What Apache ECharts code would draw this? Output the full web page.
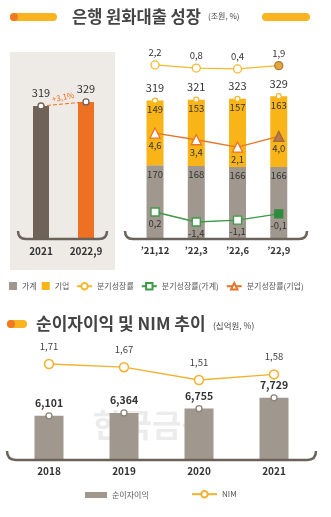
<!DOCTYPE html>
<html><head><meta charset="utf-8">
<script src="https://cdn.jsdelivr.net/npm/echarts@6/dist/echarts.min.js"></script>
<style>html,body{margin:0;padding:0;background:#fff}#c{width:331px;height:517px}</style>
</head><body><div id="c"></div>
<script>
const leftCats = ['2021', '2022,9'];
const leftTotals = [319, 329];
const quarterCats = ['’21,12', '’22,3', '’22,6', '’22,9'];
const household = [170, 168, 166, 166];
const corporate = [149, 153, 157, 163];
const totals = [319, 321, 323, 329];
const rateTotal = [2.2, 0.8, 0.4, 1.9];
const rateHousehold = [0.2, -1.4, -1.1, -0.1];
const rateCorporate = [4.6, 3.4, 2.1, 4.0];
const years = ['2018', '2019', '2020', '2021'];
const netInterest = [6101, 6364, 6755, 7729];
const nim = [1.71, 1.67, 1.51, 1.58];

const FONT = "'Noto Sans CJK KR', 'Noto Sans', sans-serif";
const dec1 = v => v.toFixed(1).replace('.', ',');
const thou = v => v.toLocaleString('en-US');

const chart = echarts.init(document.getElementById('c'), null, {renderer: 'canvas'});

function bracket(x1, x2, y, h) {
  const st = {fill: null, stroke: '#6B625A', lineWidth: 2.5};
  return [
    {type: 'line', silent: true, z: 5, shape: {x1: x1 + h, y1: y, x2: x2 - h, y2: y}, style: st},
    {type: 'bezierCurve', silent: true, z: 5, shape: {x1: x1, y1: y - h, x2: x1 + h, y2: y, cpx1: x1, cpy1: y}, style: st},
    {type: 'bezierCurve', silent: true, z: 5, shape: {x1: x2 - h, y1: y, x2: x2, y2: y - h, cpx1: x2, cpy1: y}, style: st}
  ];
}
function pill(x, y, w, dot) {
  const els = [{type: 'rect', shape: {x: x, y: y, width: w, height: 8, r: 4}, style: {fill: '#F9B420'}}];
  if (dot) els.push({type: 'circle', shape: {cx: x + 4, cy: y + 4, r: 4}, style: {fill: '#F07A22'}});
  return els;
}

const hidden = {show: false};
const xBase = (gi, data, show, extra) => Object.assign({
  type: 'category', gridIndex: gi, data: data, show: show,
  axisLine: hidden, axisTick: hidden,
  axisLabel: {fontFamily: FONT, fontSize: 10, color: '#333', fontWeight: 'bold', margin: 8}
}, extra || {});
const yBase = (gi, min, max) => ({type: 'value', gridIndex: gi, min: min, max: max, show: false, splitLine: hidden});

const valLabel = (pos, size, fmt, extra) => Object.assign({
  show: true, position: pos, fontFamily: FONT, fontSize: size, color: '#333', formatter: p => fmt(p.value)
}, extra || {});
const legTxt = {fontFamily: FONT, fontSize: 8, color: '#555'};

const option = {
  animation: false,
  backgroundColor: '#fff',
  textStyle: {fontFamily: FONT},
  graphic: [
    {type: 'rect', z: -10, shape: {x: 10, y: 52, width: 105, height: 218}, style: {fill: '#EEEBE6'}},
    {type: 'text', z: -10, style: {x: 152, y: 425, text: '한국금융', fill: '#ECECEC', font: 'bold 32px ' + FONT, textAlign: 'center', textVerticalAlign: 'middle'}},
    ...pill(10, 13, 47, true),
    ...pill(262, 13, 48, false),
    ...pill(7, 320, 20, true),
    {type: 'text', style: {x: 72, y: 17, text: '은행 원화대출 성장', fill: '#444', font: 'bold 16.5px ' + FONT, textVerticalAlign: 'middle'}},
    {type: 'text', style: {x: 208, y: 16, text: '(조원, %)', fill: '#444', font: '8px ' + FONT, textVerticalAlign: 'middle'}},
    {type: 'text', style: {x: 36, y: 324, text: '순이자이익 및 NIM 추이', fill: '#444', font: 'bold 17px ' + FONT, textVerticalAlign: 'middle'}},
    {type: 'text', style: {x: 213, y: 326, text: '(십억원, %)', fill: '#444', font: '8.5px ' + FONT, textVerticalAlign: 'middle'}},
    {type: 'text', rotation: 0.2, x: 63, y: 97, style: {x: 0, y: 0, text: '+3,1%', fill: '#EE7023', font: '8px ' + FONT, textAlign: 'center', textVerticalAlign: 'middle'}},
    ...bracket(18, 107, 239, 8),
    ...bracket(125, 307, 239, 8),
    ...bracket(7, 316, 460, 9)
  ],
  legend: [
    {data: ['가계', '기업'], left: 9, top: 282, padding: 0, itemWidth: 8, itemHeight: 8, itemGap: 5, textStyle: legTxt,
     icon: 'rect'},
    {data: ['분기성장률', '분기성장률(가계)', '분기성장률(기업)'], left: 76, top: 282, padding: 0, itemWidth: 15, itemHeight: 8, itemGap: 7, textStyle: legTxt},
    {data: ['순이자이익'], left: 85, top: 491, padding: 0, itemWidth: 22, itemHeight: 6, textStyle: legTxt, icon: 'rect'},
    {data: ['NIM'], left: 191, top: 490, padding: 0, itemWidth: 25, itemHeight: 8, textStyle: legTxt}
  ],
  grid: [
    {left: 18.5, width: 90, top: 72.5, height: 165.5},
    {left: 134.4, width: 165, top: 65.4, height: 173.6},
    {left: 134.4, width: 165, top: 54.3, height: 20},
    {left: 134.4, width: 165, top: 125.2, height: 33.6},
    {left: 134.4, width: 165, top: 207, height: 18.75},
    {left: 11.5, width: 300, top: 356.8, height: 32},
    {left: 11.5, width: 300, top: 389.3, height: 69.7}
  ],
  xAxis: [
    xBase(0, leftCats, true),
    xBase(1, quarterCats, true, {axisLabel: {fontFamily: FONT, fontSize: 9.5, color: '#333', fontWeight: 'bold', margin: 7}}),
    xBase(2, quarterCats, false),
    xBase(3, quarterCats, false),
    xBase(4, quarterCats, false),
    xBase(5, years, false),
    xBase(6, years, true, {axisLabel: {fontFamily: FONT, fontSize: 10, color: '#333', fontWeight: 'bold', margin: 7}})
  ],
  yAxis: [
    yBase(0, 0, 400), yBase(1, 0, 400), yBase(2, -2, 7), yBase(3, 0, 6),
    yBase(4, -2, 1), yBase(5, 1.4, 1.8), yBase(6, 2200, 8500)
  ],
  series: [
    {name: 'left', type: 'bar', xAxisIndex: 0, yAxisIndex: 0, barWidth: 16,
     data: leftTotals.map((v, i) => ({value: v, itemStyle: {color: i === 0 ? '#6E6259' : '#EE7023'}}))},
    {name: 'leftLine', type: 'line', xAxisIndex: 0, yAxisIndex: 0, data: leftTotals, z: 5,
     lineStyle: {color: '#EE7023', width: 1, type: 'dashed'}, symbol: 'circle', symbolSize: 6,
     itemStyle: {color: '#fff', borderColor: '#6E6259', borderWidth: 1.3},
     label: valLabel('top', 11, v => v, {distance: 4})},
    {name: '가계', type: 'bar', stack: 'q', xAxisIndex: 1, yAxisIndex: 1, barWidth: 17, data: household,
     itemStyle: {color: '#A0978E'}, label: valLabel('insideTop', 9.5, v => v, {distance: 4})},
    {name: '기업', type: 'bar', stack: 'q', xAxisIndex: 1, yAxisIndex: 1, barWidth: 17, data: corporate,
     itemStyle: {color: '#F9B517'}, label: valLabel('insideTop', 9.5, v => v, {distance: 4})},
    {name: 'total', type: 'line', xAxisIndex: 1, yAxisIndex: 1, data: totals, z: 5,
     lineStyle: {opacity: 0}, symbol: 'circle', symbolSize: 5,
     itemStyle: {color: '#fff', borderColor: '#F5B830', borderWidth: 1.2},
     label: valLabel('top', 11, v => v, {distance: 4})},
    {name: '분기성장률', type: 'line', xAxisIndex: 2, yAxisIndex: 2, z: 6,
     data: rateTotal.map((v, i) => i === 3 ? {value: v, itemStyle: {color: '#E8A33A', borderColor: '#A87C3A'}} : v),
     lineStyle: {color: '#F5B830', width: 1.3}, symbol: 'circle', symbolSize: 8,
     itemStyle: {color: '#fff', borderColor: '#F5B830', borderWidth: 1.3},
     label: valLabel('top', 9.5, dec1, {distance: 3})},
    {name: '분기성장률(가계)', type: 'line', xAxisIndex: 4, yAxisIndex: 4, z: 6,
     data: rateHousehold.map((v, i) => i === 3 ? {value: v, itemStyle: {color: '#2E8B3E', borderColor: '#2E8B3E'}} : v),
     lineStyle: {color: '#3C9A48', width: 1.3}, symbol: 'rect', symbolSize: 8,
     itemStyle: {color: '#fff', borderColor: '#3C9A48', borderWidth: 1.3},
     label: valLabel('bottom', 9.5, dec1, {distance: 2})},
    {name: '분기성장률(기업)', type: 'line', xAxisIndex: 3, yAxisIndex: 3, z: 6,
     data: rateCorporate.map((v, i) => i === 3 ? {value: v, itemStyle: {color: '#B87A4A', borderColor: '#A06A3A'}} : v),
     lineStyle: {color: '#E8742A', width: 1.3}, symbol: 'triangle', symbolSize: 10,
     itemStyle: {color: '#fff', borderColor: '#E8742A', borderWidth: 1.3},
     label: valLabel('bottom', 9.5, dec1, {distance: 2})},
    {name: '순이자이익', type: 'bar', xAxisIndex: 6, yAxisIndex: 6, barWidth: 29, data: netInterest,
     itemStyle: {color: '#A0978E'}},
    {name: 'niiMark', type: 'line', xAxisIndex: 6, yAxisIndex: 6, data: netInterest, z: 5,
     lineStyle: {opacity: 0}, symbol: 'circle', symbolSize: 6,
     itemStyle: {color: '#fff', borderColor: '#8B8178', borderWidth: 1.3},
     label: valLabel('top', 10.5, thou, {distance: 4, fontWeight: 'bold'})},
    {name: 'NIM', type: 'line', xAxisIndex: 5, yAxisIndex: 5, data: nim, z: 6,
     lineStyle: {color: '#F2B22E', width: 1.3}, symbol: 'circle', symbolSize: 9,
     itemStyle: {color: '#fff', borderColor: '#F2B22E', borderWidth: 1.5},
     label: valLabel('top', 9.5, v => v.toFixed(2).replace('.', ','), {distance: 8, color: '#444'})}
  ]
};
chart.setOption(option);
</script></body></html>
